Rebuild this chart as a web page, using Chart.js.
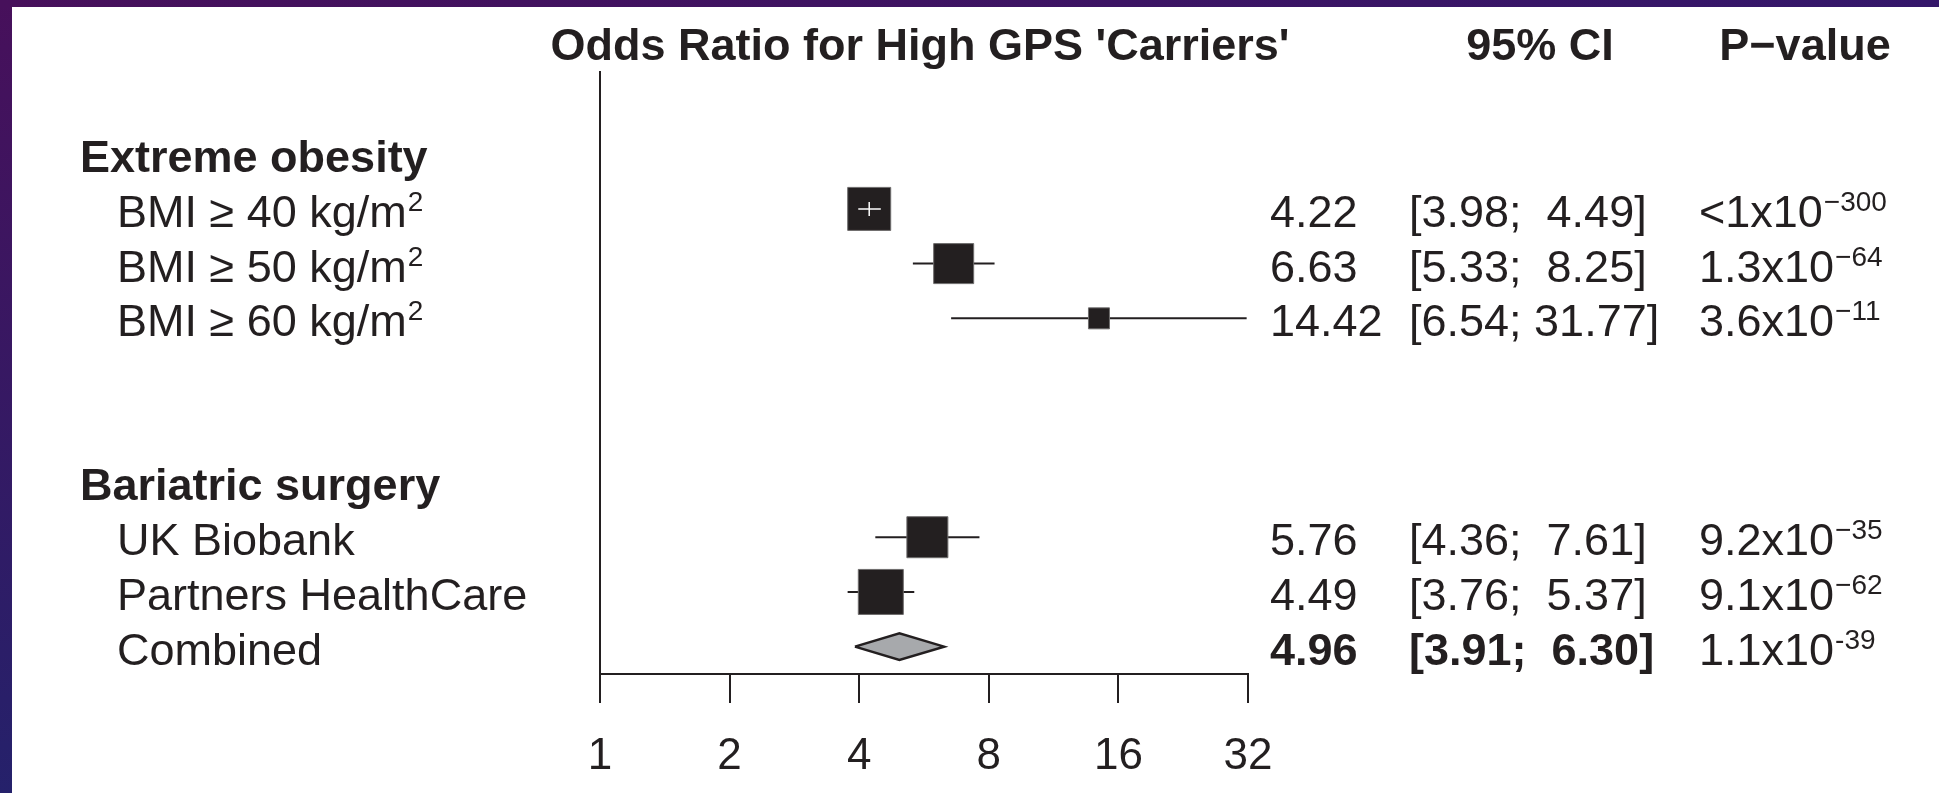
<!DOCTYPE html>
<html>
<head>
<meta charset="utf-8">
<title>Odds Ratio for High GPS 'Carriers'</title>
<script src="https://cdn.jsdelivr.net/npm/chart.js@4.4.1/dist/chart.umd.min.js"></script>
<style>
  html, body { margin: 0; padding: 0; background: #fff; }
  canvas { display: block; }
</style>
</head>
<body>
<canvas id="chart" width="1939" height="793"></canvas>
<script>
const groupLabels = ["Extreme obesity", "Bariatric surgery"];
const groupRows = [0, 6];

const studyLabels = ["BMI ≥ 40 kg/m²", "BMI ≥ 50 kg/m²", "BMI ≥ 60 kg/m²", "UK Biobank", "Partners HealthCare"];
const studyRows = [1, 2, 3, 7, 8];
const oddsRatio = [4.22, 6.63, 14.42, 5.76, 4.49];
const ciLow = [3.98, 5.33, 6.54, 4.36, 3.76];
const ciHigh = [4.49, 8.25, 31.77, 7.61, 5.37];
const pBase = ["<1x10", "1.3x10", "3.6x10", "9.2x10", "9.1x10"];
const pExp = ["−300", "−64", "−11", "−35", "−62"];

const combinedLabel = "Combined";
const combinedRow = 9;
const combinedOR = 4.96;
const combinedLow = 3.91;
const combinedHigh = 6.30;
const combinedPBase = "1.1x10";
const combinedPExp = "-39";

const xTicks = [1, 2, 4, 8, 16, 32];
const headers = ["Odds Ratio for High GPS 'Carriers'", "95% CI", "P−value"];

// square side in px for each study (weight)
const boxSide = [43, 40, 21, 41, 45];

const ink = "#231f20";
const font = "'Liberation Sans', Arial, sans-serif";
const yMin = -1.52, yMax = 9.5;
const diamondHalf = 0.245;

function fmt(v) { return v.toFixed(2); }
function ciText(lo, hi) { return "[" + fmt(lo) + "; " + fmt(hi).padStart(5, " ") + "]"; }

// text with a raised exponent, y is the row centre
function drawSup(ctx, x, y, base, exp, bold) {
    ctx.textBaseline = "alphabetic";
    ctx.font = (bold ? "bold " : "") + "45px " + font;
    ctx.fillText(base, x, y + 18);
    let w = ctx.measureText(base).width;
    ctx.font = "28px " + font;
    ctx.fillText(exp, x + w + 1, y + 2);
}

function drawLabel(ctx, x, y, t) {
    if (t.endsWith("²")) drawSup(ctx, x, y, t.slice(0, -1), "2");
    else {
        ctx.textBaseline = "alphabetic";
        ctx.font = "45px " + font;
        ctx.fillText(t, x, y + 18);
    }
}

const frame = {
    id: "frame",
    beforeDraw(chart) {
        let ctx = chart.ctx;
        let W = chart.width, H = chart.height;
        ctx.save();
        ctx.fillStyle = "#fff";
        ctx.fillRect(0, 0, W, H);
        let g = ctx.createLinearGradient(0, 0, 0, H);
        g.addColorStop(0, "#47105b");
        g.addColorStop(1, "#25216b");
        ctx.fillStyle = g;
        ctx.fillRect(0, 0, 12, H);
        let g2 = ctx.createLinearGradient(0, 0, W, 0);
        g2.addColorStop(0, "#47105b");
        g2.addColorStop(1, "#34176a");
        ctx.fillStyle = g2;
        ctx.fillRect(0, 0, W, 7);
        ctx.restore();
    }
};

// white CI line when the interval sits inside its square
const whiteCross = {
    id: "whiteCross",
    afterDatasetsDraw(chart) {
        let ctx = chart.ctx, x = chart.scales.x, y = chart.scales.y;
        ctx.save();
        ctx.strokeStyle = "#fff";
        ctx.lineWidth = 1.5;
        studyRows.forEach((r, i) => {
            let xl = x.getPixelForValue(ciLow[i]);
            let xh = x.getPixelForValue(ciHigh[i]);
            if (xh - xl >= boxSide[i]) return;
            let yy = y.getPixelForValue(r);
            let xm = x.getPixelForValue(oddsRatio[i]);
            ctx.beginPath();
            ctx.moveTo(xl, yy); ctx.lineTo(xh, yy);
            ctx.moveTo(xm, yy - 7); ctx.lineTo(xm, yy + 7);
            ctx.stroke();
        });
        ctx.restore();
    }
};

const texts = {
    id: "texts",
    afterDraw(chart) {
        let ctx = chart.ctx, x = chart.scales.x, y = chart.scales.y;
        ctx.save();
        ctx.fillStyle = ink;
        ctx.textBaseline = "alphabetic";

        ctx.font = "bold 45px " + font;
        ctx.textAlign = "center";
        ctx.fillText(headers[0], (x.left + x.right) / 2 - 4, 60);
        ctx.fillText(headers[1], 1540, 60);
        ctx.fillText(headers[2], 1805, 60);

        ctx.textAlign = "left";
        groupLabels.forEach((t, i) => ctx.fillText(t, 80, y.getPixelForValue(groupRows[i]) + 18));

        studyRows.forEach((r, i) => {
            let yy = y.getPixelForValue(r);
            drawLabel(ctx, 117, yy, studyLabels[i]);
            ctx.font = "45px " + font;
            ctx.fillText(fmt(oddsRatio[i]), 1270, yy + 18);
            ctx.fillText(ciText(ciLow[i], ciHigh[i]), 1409, yy + 18);
            drawSup(ctx, 1699, yy, pBase[i], pExp[i]);
        });

        let yc = y.getPixelForValue(combinedRow);
        drawLabel(ctx, 117, yc, combinedLabel);
        ctx.font = "bold 45px " + font;
        ctx.fillText(fmt(combinedOR), 1270, yc + 18);
        ctx.fillText(ciText(combinedLow, combinedHigh), 1409, yc + 18);
        drawSup(ctx, 1699, yc, combinedPBase, combinedPExp);
        ctx.restore();
    }
};

let datasets = [];

// reference line at OR = 1
datasets.push({
    data: [{ x: 1, y: yMin }, { x: 1, y: yMax }],
    showLine: true, borderColor: ink, borderWidth: 2, pointRadius: 0, clip: false, order: 4
});

// confidence intervals
studyRows.forEach((r, i) => {
    datasets.push({
        data: [{ x: ciLow[i], y: r }, { x: ciHigh[i], y: r }],
        showLine: true, borderColor: ink, borderWidth: 2, pointRadius: 0, order: 3
    });
});

// squares
datasets.push({
    data: studyRows.map((r, i) => ({ x: oddsRatio[i], y: r })),
    pointStyle: "rect",
    pointRadius: boxSide.map(s => s / Math.SQRT2),
    backgroundColor: ink,
    borderColor: "#6e6c6c",
    borderWidth: 1,
    order: 2
});

// pooled estimate diamond
datasets.push({
    data: [
        { x: combinedLow, y: combinedRow },
        { x: combinedOR, y: combinedRow - diamondHalf },
        { x: combinedHigh, y: combinedRow },
        { x: combinedOR, y: combinedRow + diamondHalf },
        { x: combinedLow, y: combinedRow }
    ],
    showLine: true, fill: "shape", tension: 0,
    backgroundColor: "#a7a9ac", borderColor: ink, borderWidth: 2.5,
    borderJoinStyle: "miter", pointRadius: 0, order: 2
});

new Chart(document.getElementById("chart"), {
    type: "scatter",
    data: { datasets: datasets },
    options: {
        responsive: false,
        animation: false,
        events: [],
        layout: { padding: { left: 600, right: 691, top: 71, bottom: 0 } },
        plugins: { legend: { display: false }, tooltip: { enabled: false } },
        scales: {
            x: {
                type: "logarithmic",
                min: 1,
                max: 32,
                afterBuildTicks: s => { s.ticks = xTicks.map(v => ({ value: v })); },
                afterFit: s => { s.height = 119; },
                border: { display: true, color: ink, width: 2 },
                grid: { drawOnChartArea: false, drawTicks: true, tickLength: 29, color: ink, lineWidth: 2 },
                ticks: {
                    color: ink,
                    font: { family: font, size: 44 },
                    padding: 27,
                    maxRotation: 0,
                    autoSkip: false,
                    callback: v => String(v)
                }
            },
            y: { type: "linear", reverse: true, min: yMin, max: yMax, display: false }
        }
    },
    plugins: [frame, whiteCross, texts]
});
</script>
</body>
</html>
